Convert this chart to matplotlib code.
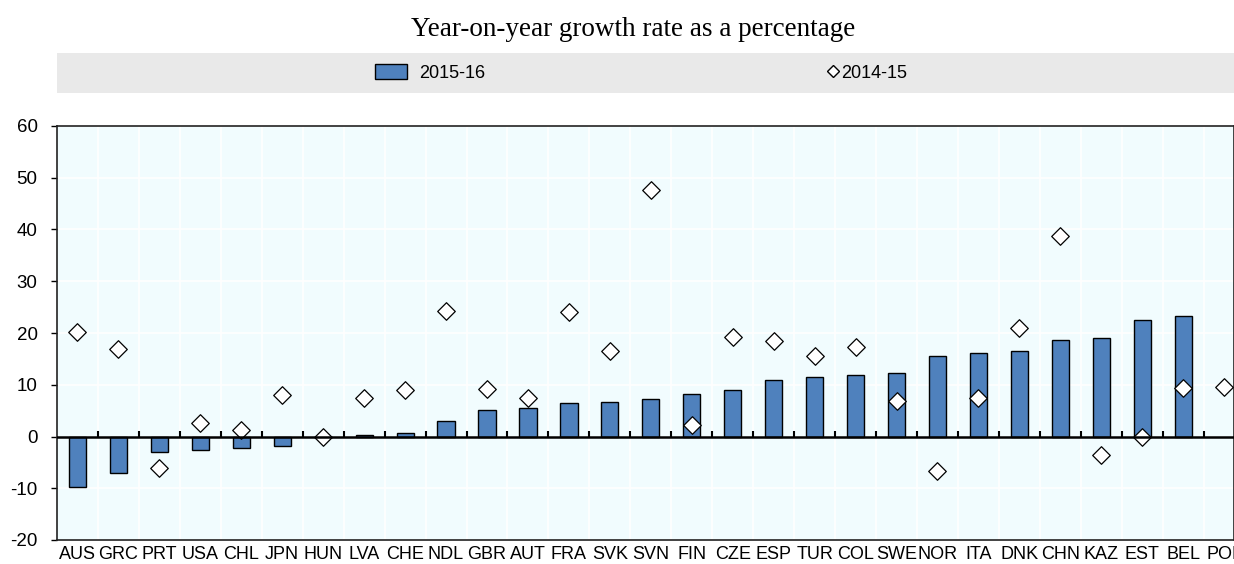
import matplotlib
matplotlib.use("Agg")
import matplotlib.pyplot as plt
import numpy as np
from matplotlib.patches import Patch
from matplotlib.lines import Line2D

countries = ["AUS", "GRC", "PRT", "USA", "CHL", "JPN", "HUN", "LVA", "CHE", "NDL",
             "GBR", "AUT", "FRA", "SVK", "SVN", "FIN", "CZE", "ESP", "TUR", "COL",
             "SWE", "NOR", "ITA", "DNK", "CHN", "KAZ", "EST", "BEL", "POL"]
growth_2015_16 = [-9.7, -7.1, -3.0, -2.6, -2.3, -1.8, -0.1, 0.2, 0.7, 2.9,
                  5.1, 5.6, 6.5, 6.7, 7.2, 8.2, 9.0, 10.9, 11.5, 11.9,
                  12.2, 15.6, 16.1, 16.6, 18.6, 19.1, 22.6, 23.3, np.nan]
growth_2014_15 = [20.1, 17.0, -6.0, 2.7, 1.3, 8.0, 0.0, 7.4, 9.0, 24.2,
                  9.1, 7.5, 24.0, 16.5, 47.6, 2.2, 19.2, 18.4, 15.5, 17.2,
                  6.8, -6.7, 7.5, 20.9, 38.7, -3.6, 0.0, 9.3, 9.5]

BAR_COLOR = "#4F81BD"
BG_COLOR = "#F1FCFE"
BAND_COLOR = "#E9E9E9"

plt.rcParams["font.family"] = ["Liberation Sans", "DejaVu Sans"]
plt.rcParams["axes.unicode_minus"] = False

W, H = 1234, 564
fig = plt.figure(figsize=(W / 100, H / 100), dpi=100)

# title
fig.text(633 / W, 1 - 30 / H, "Year-on-year growth rate as a percentage",
         ha="center", va="center", fontsize=19.5, family="Liberation Serif")

# legend band
band = fig.add_axes([57 / W, 1 - 93 / H, 1 - 57 / W, 40 / H])
band.set_facecolor(BAND_COLOR)
band.set_xticks([])
band.set_yticks([])
for s in band.spines.values():
    s.set_visible(False)

ax = fig.add_axes([57 / W, 1 - 540 / H, 1 - 57 / W, 414 / H])
x = np.arange(len(countries))
ax.set_facecolor(BG_COLOR)
ax.bar(x, growth_2015_16, width=0.42, color=BAR_COLOR, edgecolor="black",
       linewidth=1.0, zorder=3)
ax.scatter(x, growth_2014_15, marker="D", s=80, facecolor="white",
           edgecolor="black", linewidth=0.9, zorder=4)

ax.set_xlim(-0.5, 28.24)
ax.set_ylim(-20, 60)
ax.set_yticks(np.arange(-20, 61, 10))
ax.set_xticks(x)
ax.set_xticklabels(countries)
ax.set_xticks(x[:-1] + 0.5, minor=True)
ax.tick_params(axis="x", which="both", length=0, labelsize=13, pad=4)
ax.tick_params(axis="y", length=4, labelsize=13.5, pad=10, width=1)
ax.grid(axis="y", color="white", lw=1.2, zorder=0)
ax.grid(axis="x", which="minor", color="white", lw=1.2, zorder=0)
ax.set_axisbelow(True)

# zero line with small ticks between categories
ax.axhline(0, color="black", lw=1.8, zorder=5)
ax.vlines(x[:-1] + 0.5, 0, 1.0, color="black", lw=1.5, zorder=5)
for s in ax.spines.values():
    s.set_linewidth(1.2)
    s.set_color("#222222")

bar_handle = Patch(facecolor=BAR_COLOR, edgecolor="black", label="2015-16")
dot_handle = Line2D([], [], marker="D", ls="none", markerfacecolor="white",
                    markeredgecolor="black", markersize=6.5, label="2014-15")
leg1 = band.legend(handles=[bar_handle], loc="center left",
                   bbox_to_anchor=((375 - 57) / 1177, 0.5), frameon=False,
                   fontsize=13, handlelength=1.75, handleheight=0.9,
                   handletextpad=0.7, borderpad=0, borderaxespad=0)
band.add_artist(leg1)
band.legend(handles=[dot_handle], loc="center left",
            bbox_to_anchor=((828 - 57) / 1177, 0.5), frameon=False,
            fontsize=13, handlelength=0.6, handletextpad=0.15,
            borderpad=0, borderaxespad=0)

fig.savefig("out.png", dpi=100)
